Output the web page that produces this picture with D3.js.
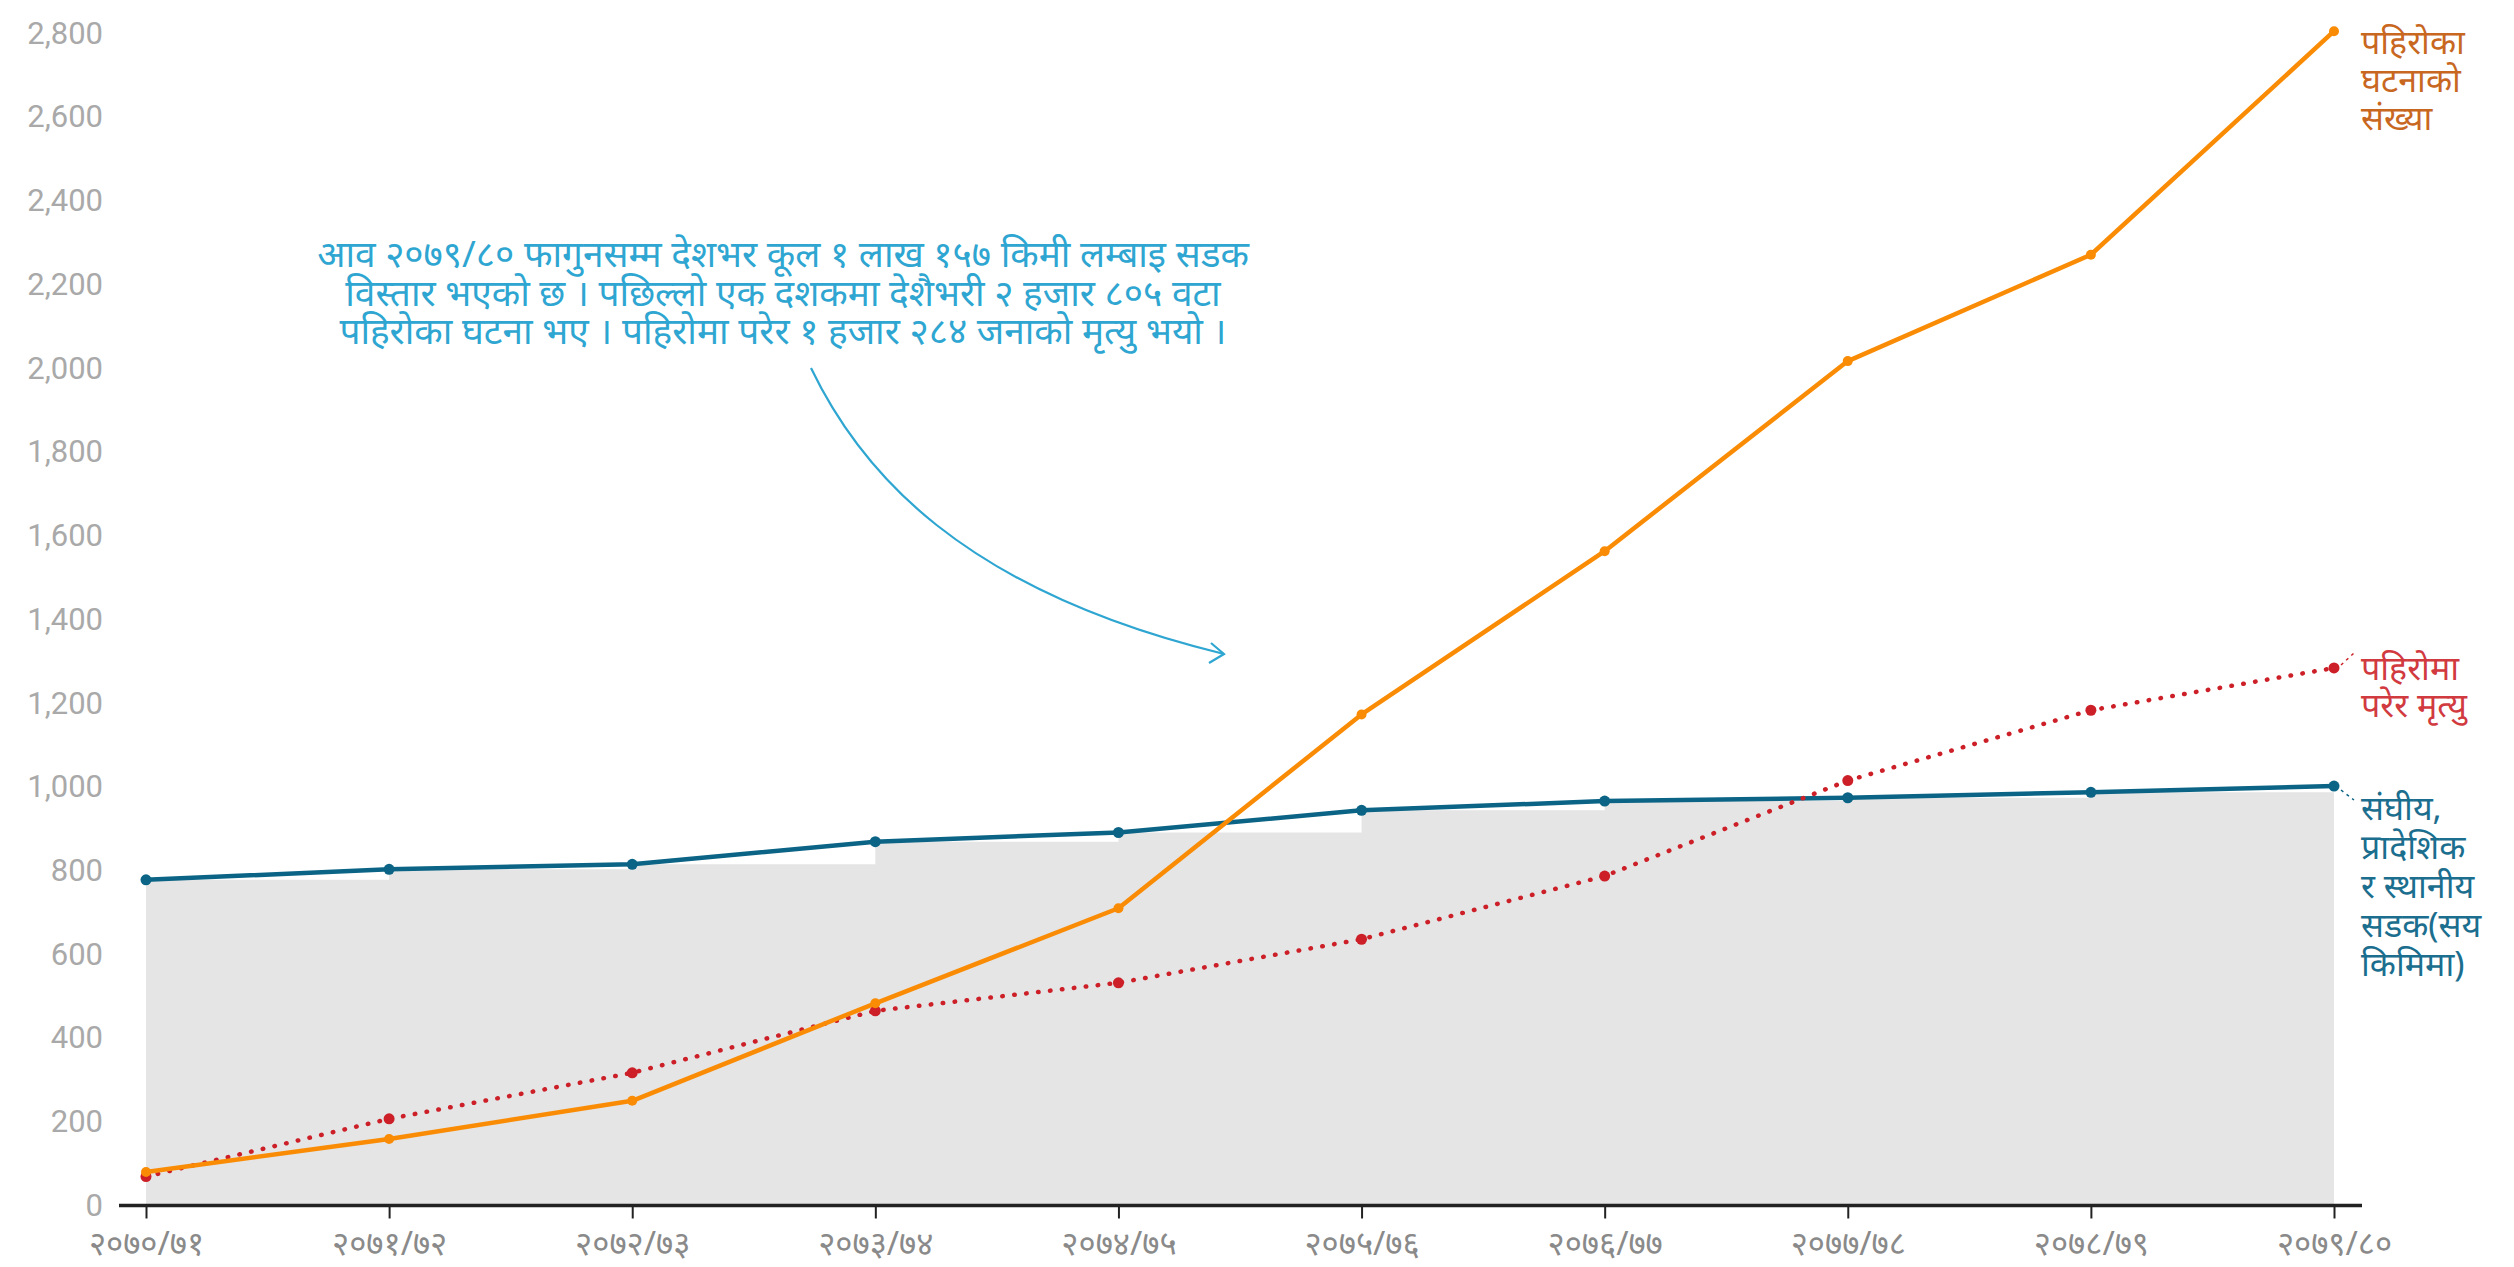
<!DOCTYPE html>
<html>
<head>
<meta charset="utf-8">
<script src="https://cdn.jsdelivr.net/npm/d3@7"></script>
<style>
  body { margin: 0; background: #fff; }
  svg { display: block; }
  .yTick { font-family: Roboto, sans-serif; font-size: 31px; fill: #a9a9a9; }
  .xTick { font-family: "Noto Sans", sans-serif; font-size: 33px; fill: #8a8a8a; }
  .lbl { font-family: "Noto Sans", sans-serif; font-size: 34px; }
  .note { font-family: "Noto Sans", sans-serif; font-size: 37px; fill: #2ea6d1; }
</style>
</head>
<body>
<div id="chart"></div>
<script>
var years = ['२०७०/७१', '२०७१/७२', '२०७२/७३', '२०७३/७४', '२०७४/७५', '२०७५/७६', '२०७६/७७', '२०७७/७८', '२०७८/७९', '२०७९/८०'];
var roads = [778, 803, 815, 869, 891, 944, 966, 974, 987, 1002];
var landslides = [80, 159, 250, 483, 710, 1173, 1563, 2017, 2271, 2805];
var deaths = [69, 207, 317, 465, 532, 636, 787, 1015, 1183, 1284];
var yTicks = [0, 200, 400, 600, 800, 1000, 1200, 1400, 1600, 1800, 2000, 2200, 2400, 2600, 2800];

var roadLabel = ['संघीय,', 'प्रादेशिक', 'र स्थानीय', 'सडक(सय', 'किमिमा)'];
var slideLabel = ['पहिरोका', 'घटनाको', 'संख्या'];
var deathLabel = ['पहिरोमा', 'परेर मृत्यु'];
var note = [
    'आव २०७९/८० फागुनसम्म देशभर कूल १ लाख १५७ किमी लम्बाइ सडक',
    'विस्तार भएको छ । पछिल्लो एक दशकमा देशैभरी २ हजार ८०५ वटा',
    'पहिरोका घटना भए । पहिरोमा परेर १ हजार २८४ जनाको मृत्यु भयो ।'
];

var width = 2514;
var height = 1267;

var svg = d3.select('#chart')
    .append('svg')
    .attr('width', width)
    .attr('height', height);

var x = d3.scalePoint().domain(years).range([146, 2334]);
var y = d3.scaleLinear().domain([0, 2800]).range([1205.5, 33.3]);

// grey road area (stepped)
var area = d3.area()
    .x((d, i) => x(years[i]))
    .y0(y(0))
    .y1(d => y(d))
    .curve(d3.curveStepAfter);

svg.append('path')
    .datum(roads)
    .attr('d', area)
    .attr('fill', '#e5e5e5');

// y axis labels
var yAxis = svg.append('g')
    .attr('transform', 'translate(103,0)')
    .call(d3.axisLeft(y).tickValues(yTicks).tickSize(0).tickPadding(0).tickFormat(d3.format(',')));
yAxis.select('.domain').remove();
yAxis.selectAll('text').attr('class', 'yTick').attr('fill', null);

// x axis
var xAxis = svg.append('g')
    .attr('transform', `translate(0,${y(0)})`)
    .call(d3.axisBottom(x).tickSize(13));
xAxis.select('.domain').remove();
xAxis.selectAll('.tick line').attr('stroke', '#222').attr('stroke-width', 2);
xAxis.selectAll('text')
    .attr('class', 'xTick')
    .attr('fill', null)
    .attr('y', 49)
    .attr('dy', null);
xAxis.append('line')
    .attr('x1', x(years[0]) - 27)
    .attr('x2', x(years[years.length - 1]) + 28)
    .attr('stroke', '#222')
    .attr('stroke-width', 3.5);

var line = d3.line().x((d, i) => x(years[i])).y(d => y(d));

function drawSeries(vals, color, width, r, dash) {
    var g = svg.append('g');
    var p = g.append('path')
        .datum(vals)
        .attr('d', line)
        .attr('fill', 'none')
        .attr('stroke', color)
        .attr('stroke-width', width)
        .attr('stroke-linejoin', 'round');
    if (dash) p.attr('stroke-dasharray', dash).attr('stroke-linecap', 'round');
    g.selectAll('circle')
        .data(vals)
        .enter()
        .append('circle')
        .attr('cx', (d, i) => x(years[i]))
        .attr('cy', d => y(d))
        .attr('r', r)
        .attr('fill', color);
}

drawSeries(roads, '#0b6485', 4.5, 5.5);
drawSeries(deaths, '#cc1f27', 4.5, 5.5, '0.5 11.5');
drawSeries(landslides, '#fa8c05', 4.5, 5);

// end labels
var lastX = x(years[years.length - 1]);

function endLabel(lines, top, color, step) {
    var t = svg.append('text')
        .attr('class', 'lbl')
        .attr('fill', color)
        .attr('x', lastX + 27)
        .attr('y', top);
    t.selectAll('tspan')
        .data(lines)
        .enter()
        .append('tspan')
        .attr('x', lastX + 27)
        .attr('dy', (d, i) => i ? step : 0)
        .text(d => d);
}

endLabel(slideLabel, 54, '#c8671f', 38);
endLabel(deathLabel, 680, '#d13a3f', 37);
endLabel(roadLabel, 820, '#1b6e8e', 39);

// little leader ticks to the labels
svg.append('line')
    .attr('x1', lastX + 7).attr('y1', y(deaths[9]) - 3)
    .attr('x2', lastX + 20).attr('y2', y(deaths[9]) - 15)
    .attr('stroke', '#cc1f27').attr('stroke-width', 1.5).attr('stroke-dasharray', '3 4');
svg.append('line')
    .attr('x1', lastX + 7).attr('y1', y(roads[9]) + 4)
    .attr('x2', lastX + 20).attr('y2', y(roads[9]) + 14)
    .attr('stroke', '#0b6485').attr('stroke-width', 1.5).attr('stroke-dasharray', '3 4');

// annotation
var noteText = svg.append('text')
    .attr('class', 'note')
    .attr('text-anchor', 'middle')
    .attr('y', 267);
noteText.selectAll('tspan')
    .data(note)
    .enter()
    .append('tspan')
    .attr('x', 783)
    .attr('dy', (d, i) => i ? 38.5 : 0)
    .text(d => d);

var arrow = d3.path();
arrow.moveTo(811, 368);
arrow.bezierCurveTo(860, 470, 960, 590, 1224, 654);
svg.append('path')
    .attr('d', arrow.toString())
    .attr('fill', 'none')
    .attr('stroke', '#2ea6d1')
    .attr('stroke-width', 2.2);
svg.append('path')
    .attr('d', 'M1211,643 L1224,654 L1209,663')
    .attr('fill', 'none')
    .attr('stroke', '#2ea6d1')
    .attr('stroke-width', 2.2);
</script>
</body>
</html>
